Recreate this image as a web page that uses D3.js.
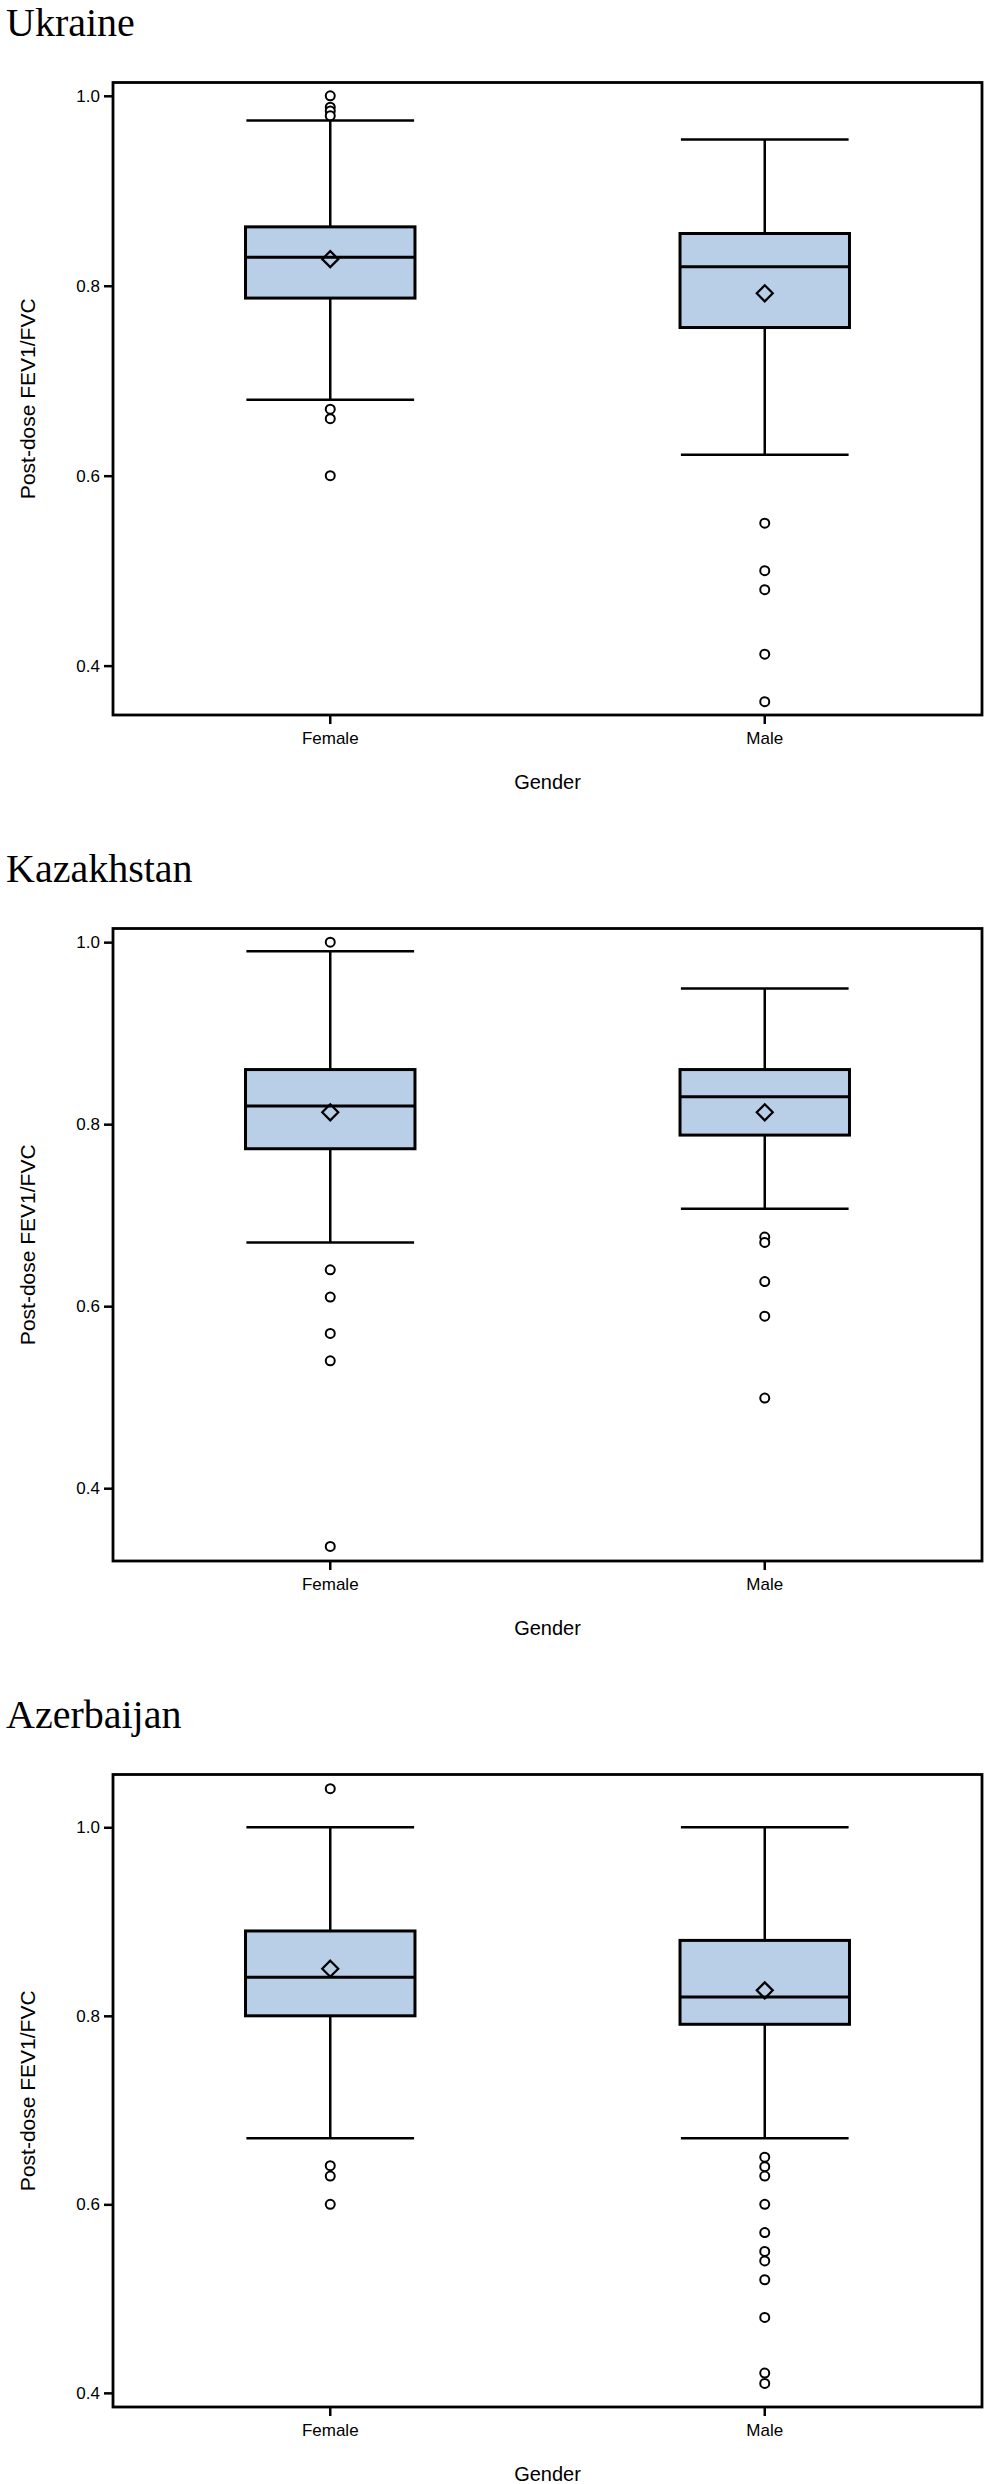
<!DOCTYPE html>
<html>
<head>
<meta charset="utf-8">
<script src="https://cdn.jsdelivr.net/npm/d3@7/dist/d3.min.js"></script>
<style>
    body { margin: 0; background: #fff; }
    svg { display: block; }
    .title { font-family: "Liberation Serif", "Times New Roman", serif; font-size: 40px; }
    .tick text, .lbl { font-family: "Liberation Sans", Arial, sans-serif; }
</style>
</head>
<body>
<div id="chart"></div>
<script>
    // values
    var countries = ["Ukraine", "Kazakhstan", "Azerbaijan"];
    var genders = ["Female", "Male"];
    var yTicks = [0.4, 0.6, 0.8, 1.0];
    var yDomains = [[0.348, 1.014], [0.320, 1.015], [0.385, 1.056]];

    var q1 = [[0.787, 0.756], [0.773, 0.788], [0.800, 0.791]];
    var median = [[0.830, 0.820], [0.820, 0.830], [0.841, 0.820]];
    var q3 = [[0.862, 0.855], [0.860, 0.860], [0.890, 0.880]];
    var whiskerLo = [[0.680, 0.622], [0.670, 0.707], [0.670, 0.670]];
    var whiskerHi = [[0.974, 0.954], [0.990, 0.949], [1.000, 1.000]];
    var means = [[0.828, 0.792], [0.813, 0.813], [0.850, 0.827]];
    var outliers = [
        [[1.000, 0.988, 0.984, 0.979, 0.670, 0.660, 0.600], [0.550, 0.500, 0.480, 0.412, 0.362]],
        [[1.000, 0.640, 0.610, 0.570, 0.540, 0.336], [0.676, 0.670, 0.627, 0.589, 0.499]],
        [[1.041, 0.641, 0.630, 0.600], [0.650, 0.640, 0.630, 0.600, 0.570, 0.550, 0.540, 0.520, 0.480, 0.421, 0.410]]
    ];

    var width = 984, height = 2484, panelH = 846;
    var margin = {left: 113, right: 2, top: 82.5, bottom: 131};
    var plotW = width - margin.left - margin.right,
        plotH = panelH - margin.top - margin.bottom;
    var boxFill = "#b9cfe8";

    var svg = d3.select("#chart").append("svg")
        .attr("width", width)
        .attr("height", height);

    var x = d3.scaleBand().domain(genders).range([0, plotW]).padding(0);
    var boxW = x.bandwidth() * 0.39,
        capW = x.bandwidth() * 0.193;

    countries.forEach(function(country, ci) {
        var panel = svg.append("g")
            .attr("transform", "translate(0," + ci * panelH + ")");

        panel.append("text")
            .attr("class", "title")
            .attr("x", 6)
            .attr("y", 36)
            .text(country);

        var g = panel.append("g")
            .attr("transform", "translate(" + margin.left + "," + margin.top + ")");

        var y = d3.scaleLinear().domain(yDomains[ci]).range([plotH, 0]);

        // y axis
        var yAxis = g.append("g")
            .call(d3.axisLeft(y).tickValues(yTicks).tickFormat(d3.format(".1f")).tickSize(9).tickPadding(4));
        yAxis.select(".domain").remove();
        yAxis.selectAll(".tick line").attr("stroke", "#000").attr("stroke-width", 2.5);
        yAxis.selectAll(".tick text").attr("font-size", 17).attr("fill", "#000");

        // x axis
        var xAxis = g.append("g")
            .attr("transform", "translate(0," + plotH + ")")
            .call(d3.axisBottom(x).tickSize(9).tickPadding(8));
        xAxis.select(".domain").remove();
        xAxis.selectAll(".tick line").attr("stroke", "#000").attr("stroke-width", 2.5);
        xAxis.selectAll(".tick text").attr("font-size", 17).attr("fill", "#000");

        // axis titles
        g.append("text")
            .attr("class", "lbl")
            .attr("text-anchor", "middle")
            .attr("font-size", 21)
            .attr("transform", "translate(" + (35 - margin.left) + "," + plotH / 2 + ") rotate(-90)")
            .text("Post-dose FEV1/FVC");

        g.append("text")
            .attr("class", "lbl")
            .attr("text-anchor", "middle")
            .attr("font-size", 20)
            .attr("x", plotW / 2)
            .attr("y", plotH + 74)
            .text("Gender");

        var stats = genders.map(function(gd, gi) {
            return {
                gender: gd,
                q1: q1[ci][gi], med: median[ci][gi], q3: q3[ci][gi],
                lo: whiskerLo[ci][gi], hi: whiskerHi[ci][gi],
                mean: means[ci][gi], out: outliers[ci][gi]
            };
        });

        var boxes = g.selectAll("g.box")
            .data(stats)
            .enter().append("g")
            .attr("class", "box")
            .attr("transform", function(d) { return "translate(" + (x(d.gender) + x.bandwidth() / 2) + ",0)"; });

        // whisker stems
        boxes.append("line")
            .attr("x1", 0).attr("x2", 0)
            .attr("y1", function(d) { return y(d.hi); })
            .attr("y2", function(d) { return y(d.lo); })
            .attr("stroke", "#000").attr("stroke-width", 2.5);

        // caps
        boxes.selectAll("line.cap")
            .data(function(d) { return [d.hi, d.lo]; })
            .enter().append("line")
            .attr("class", "cap")
            .attr("x1", -capW).attr("x2", capW)
            .attr("y1", function(v) { return y(v); })
            .attr("y2", function(v) { return y(v); })
            .attr("stroke", "#000").attr("stroke-width", 2.5);

        boxes.append("rect")
            .attr("x", -boxW / 2)
            .attr("width", boxW)
            .attr("y", function(d) { return y(d.q3); })
            .attr("height", function(d) { return y(d.q1) - y(d.q3); })
            .attr("fill", boxFill)
            .attr("stroke", "#000").attr("stroke-width", 3);

        boxes.append("line")
            .attr("x1", -boxW / 2).attr("x2", boxW / 2)
            .attr("y1", function(d) { return y(d.med); })
            .attr("y2", function(d) { return y(d.med); })
            .attr("stroke", "#000").attr("stroke-width", 3);

        // mean diamond
        boxes.append("path")
            .attr("d", function(d) {
                var cy = y(d.mean), s = 8;
                return "M0," + (cy - s) + "L" + s + "," + cy + "L0," + (cy + s) + "L" + (-s) + "," + cy + "Z";
            })
            .attr("fill", "none")
            .attr("stroke", "#000").attr("stroke-width", 2.2);

        // outliers
        boxes.selectAll("circle")
            .data(function(d) { return d.out; })
            .enter().append("circle")
            .attr("cx", 0)
            .attr("cy", function(v) { return y(v); })
            .attr("r", 4.5)
            .attr("fill", "#fff")
            .attr("stroke", "#000").attr("stroke-width", 2);

        // frame
        g.append("rect")
            .attr("width", plotW)
            .attr("height", plotH)
            .attr("fill", "none")
            .attr("stroke", "#000").attr("stroke-width", 2.8);
    });
</script>
</body>
</html>
